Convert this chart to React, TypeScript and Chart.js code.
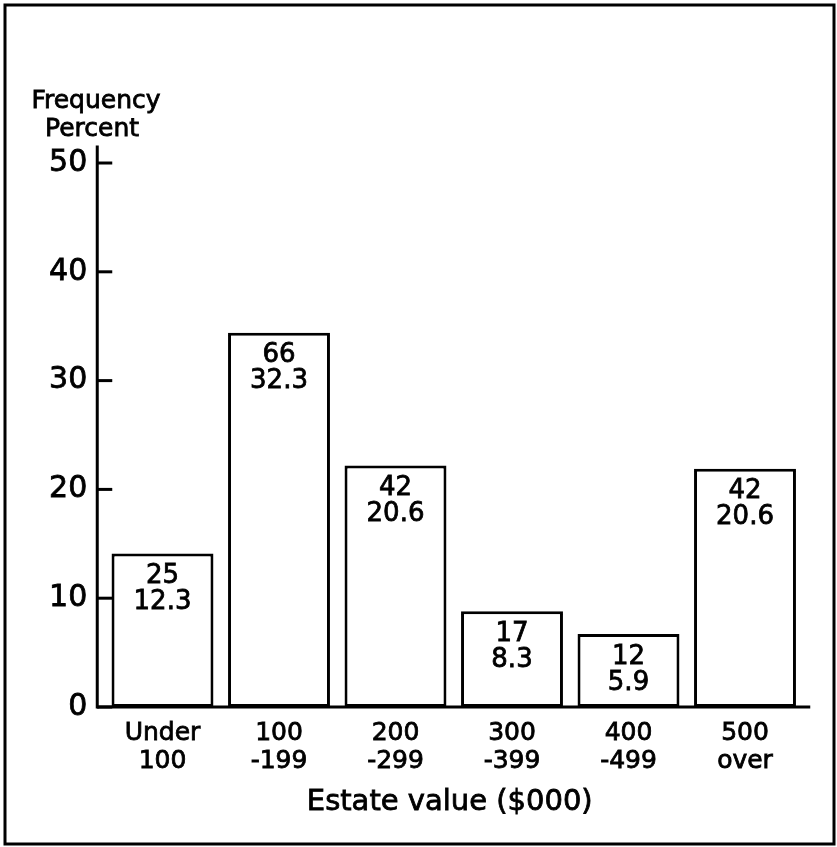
import React, { useEffect, useRef } from 'react';
import { Chart, registerables } from 'chart.js';

Chart.register(...registerables);

// ---- Data ----
const categories: string[][] = [
  ['Under', '100'],
  ['100', '-199'],
  ['200', '-299'],
  ['300', '-399'],
  ['400', '-499'],
  ['500', 'over'],
];
const barHeights = [14.1, 34.4, 22.2, 8.8, 6.7, 21.9];
const frequencies = ['25', '66', '42', '17', '12', '42'];
const percents = ['12.3', '32.3', '20.6', '8.3', '5.9', '20.6'];
const yTicks = [0, 10, 20, 30, 40, 50];
const yTitleLines = ['Frequency', 'Percent'];
const xTitle = 'Estate value ($000)';

const FONT = '"DejaVu Sans", "Liberation Sans", sans-serif';

function heavyText(ctx: any, text: string, x: number, y: number) {
  ctx.fillText(text, x, y);
  ctx.strokeText(text, x, y);
}

const decorPlugin = {
  id: 'decor',
  beforeDraw(chart: any) {
    const ctx = chart.ctx;
    ctx.save();
    ctx.fillStyle = '#ffffff';
    ctx.fillRect(0, 0, chart.width, chart.height);
    ctx.strokeStyle = '#000';
    ctx.lineWidth = 3;
    ctx.strokeRect(5, 5, 829, 839);
    ctx.restore();
  },
  afterDatasetsDraw(chart: any) {
    const ctx = chart.ctx;
    const area = chart.chartArea;
    const yScale = chart.scales.y;
    const axisX = area.left - 7;
    const baseY = yScale.getPixelForValue(0);
    ctx.save();
    ctx.strokeStyle = '#000';
    ctx.lineWidth = 3;
    ctx.lineCap = 'butt';
    // y axis line
    ctx.beginPath();
    ctx.moveTo(axisX, area.top);
    ctx.lineTo(axisX, baseY + 1.5);
    ctx.stroke();
    // inward ticks
    yTicks.forEach((v) => {
      const y = yScale.getPixelForValue(v);
      ctx.beginPath();
      ctx.moveTo(axisX, y);
      ctx.lineTo(axisX + 15, y);
      ctx.stroke();
    });
    // baseline
    ctx.beginPath();
    ctx.moveTo(axisX, baseY);
    ctx.lineTo(area.right + 7, baseY);
    ctx.stroke();

    // labels inside bars
    const meta = chart.getDatasetMeta(0);
    ctx.fillStyle = '#000';
    ctx.strokeStyle = '#000';
    ctx.lineWidth = 0.8;
    ctx.font = `26px ${FONT}`;
    ctx.textAlign = 'center';
    ctx.textBaseline = 'middle';
    meta.data.forEach((bar: any, i: number) => {
      heavyText(ctx, frequencies[i], bar.x, bar.y + 23);
      heavyText(ctx, percents[i], bar.x, bar.y + 49);
    });

    // y title (horizontal, top-left)
    ctx.font = `25px ${FONT}`;
    heavyText(ctx, yTitleLines[0], 96, 101);
    heavyText(ctx, yTitleLines[1], 92, 129);

    // x axis title
    ctx.font = `29px ${FONT}`;
    heavyText(ctx, xTitle, (area.left + area.right) / 2 - 4, 802);
    ctx.restore();
  },
};

export default function App() {
  const canvasRef = useRef<HTMLCanvasElement | null>(null);

  useEffect(() => {
    const canvas = canvasRef.current;
    if (!canvas) return;
    const chart = new Chart(canvas, {
      type: 'bar',
      data: {
        labels: categories,
        datasets: [
          {
            data: barHeights,
            backgroundColor: '#ffffff',
            borderColor: '#000000',
            borderWidth: 3,
            borderSkipped: false,
            categoryPercentage: 1,
            barPercentage: 0.875,
          },
        ],
      },
      options: {
        responsive: false,
        animation: false,
        devicePixelRatio: 1,
        layout: { padding: { left: 10, right: 33.75, top: 145.6, bottom: 20 } },
        plugins: {
          legend: { display: false },
          tooltip: { enabled: false },
          title: { display: false },
        },
        scales: {
          x: {
            grid: { display: false, drawTicks: false },
            border: { display: false },
            ticks: {
              color: '#000',
              font: { family: FONT, size: 25, lineHeight: 1.12 },
              padding: 12,
              maxRotation: 0,
              autoSkip: false,
              textStrokeColor: '#000',
              textStrokeWidth: 0.8,
            },
            afterFit(scale: any) {
              scale.height = 120;
            },
          },
          y: {
            min: 0,
            max: 51.6,
            grid: { display: false, drawTicks: false },
            border: { display: false },
            ticks: {
              color: '#000',
              font: { family: FONT, size: 30 },
              padding: 17,
              textStrokeColor: '#000',
              textStrokeWidth: 0.8,
            },
            afterBuildTicks(scale: any) {
              scale.ticks = yTicks.map((v) => ({ value: v }));
            },
            afterFit(scale: any) {
              scale.width = 94.25;
            },
          },
        },
      },
      plugins: [decorPlugin],
    } as any);
    return () => chart.destroy();
  }, []);

  return (
    <div style={{ position: 'absolute', left: 0, top: 0, width: 837, height: 847, background: '#fff' }}>
      <canvas ref={canvasRef} width={837} height={847} style={{ display: 'block' }} />
    </div>
  );
}
